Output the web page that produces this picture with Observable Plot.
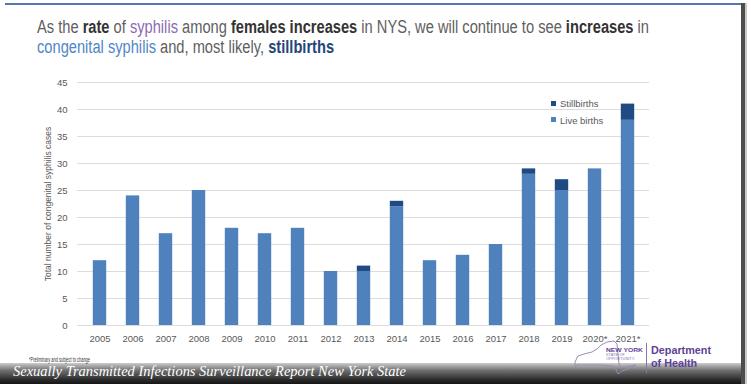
<!DOCTYPE html>
<html><head><meta charset="utf-8">
<script src="https://cdn.jsdelivr.net/npm/d3@7"></script>
<script src="https://cdn.jsdelivr.net/npm/@observablehq/plot@0.6"></script>
<style>
body{margin:0;background:#fff;}
#wrap{position:relative;width:751px;height:384px;overflow:hidden;background:#fff;font-family:"Liberation Sans",Arial,sans-serif;}
#topline{position:absolute;left:5px;top:3px;width:736px;height:1.5px;background:#5676ad;}
#rightbar{position:absolute;left:741px;top:3px;width:4px;height:381px;background:#4d4d4d;z-index:5;}
#rightbar2{position:absolute;left:745px;top:3px;width:2px;height:381px;background:#c8c8c8;z-index:5;}
.fit{position:absolute;white-space:nowrap;transform-origin:left top;display:inline-block;}
#t1{left:37px;top:17px;}
#t2{left:37px;top:37px;}
.title{font-family:"Liberation Sans",Arial,sans-serif;font-size:18px;line-height:20px;color:#606060;}
.title b{color:#333;font-weight:bold;}
.purple{color:#8a6bb0;}
.lblue{color:#4f86c6;}
.dblue{color:#24477a;font-weight:bold;}
#chart{position:absolute;left:0;top:70px;}
#legend{position:absolute;left:551px;top:96px;font-size:9.5px;color:#595959;line-height:16.5px;}
#legend .sw{display:inline-block;width:5px;height:5px;margin-right:4px;vertical-align:middle;position:relative;top:-1px;}
#note{left:29px;top:356px;font-size:6.5px;line-height:7px;color:#333;z-index:3;}
#band{position:absolute;left:0;top:363px;width:741px;height:21px;background:linear-gradient(rgba(170,170,170,0.6),#707070 35%,#2a2a2a 80%,#151515);z-index:2;}
#bandtext{left:13px;top:363px;font-family:"Liberation Serif",serif;font-style:italic;font-size:15px;line-height:17px;color:#fff;z-index:4;}
#logo{position:absolute;left:570px;top:340px;z-index:3;}
#dept1{left:651px;top:344px;font-weight:bold;font-size:11.5px;line-height:12px;color:#5e3f98;z-index:3;}
#dept2{left:651px;top:357px;font-weight:bold;font-size:11.5px;line-height:12px;color:#5e3f98;z-index:3;}
#nyline{position:absolute;left:646px;top:343px;width:1px;height:30px;background:#8a74b4;z-index:3;}
#nytxt{left:606px;top:347px;font-weight:bold;font-size:6px;line-height:6px;color:#5e3f98;z-index:3;}
#nytxt span{font-weight:normal;font-size:3.5px;line-height:4px;display:block;color:#8a74b4;}
</style></head>
<body>
<div id="wrap">
  <div id="topline"></div>
  <div id="rightbar"></div><div id="rightbar2"></div>
  <div id="t1" class="fit title">As the <b>rate</b> of <span class="purple">syphilis</span> among <b>females increases</b> in NYS, we will continue to see <b>increases</b> in</div>
  <div id="t2" class="fit title"><span class="lblue">congenital syphilis</span> and, most likely, <span class="dblue">stillbirths</span></div>
  <div id="chart"></div>
  <div id="legend"></div>
  <svg id="logo" width="75" height="36" viewBox="0 0 75 36"><path d="M5,22 L8,16 L14,14 L22,12 L27,9 L31,5 L37,2 L44,1 L47,4 L48,14 L49,24 L51,28 L60,26 L66,25 L58,29 L52,31 L48,34 L46,29 L44,26 L30,25 L8,25 L5,26 Z" fill="none" stroke="#9b8cb8" stroke-width="1"/></svg>
  <div id="nytxt" class="fit">NEW YORK<span>STATE OF<br>OPPORTUNITY.</span></div>
  <div id="nyline"></div>
  <div id="dept1" class="fit">Department</div>
  <div id="dept2" class="fit">of Health</div>
  <div id="note" class="fit">*Preliminary and subject to change</div>
  <div id="band"></div>
  <div id="bandtext" class="fit">Sexually Transmitted Infections Surveillance Report New York State</div>
</div>
<script>
const years = ["2005","2006","2007","2008","2009","2010","2011","2012","2013","2014","2015","2016","2017","2018","2019","2020*","2021*"];
const liveBirths = [12,24,17,25,18,17,18,10,10,22,12,13,15,28,25,29,38];
const stillbirths = [0,0,0,0,0,0,0,0,1,1,0,0,0,1,2,0,3];
const seriesNames = ["Live births","Stillbirths"];
const seriesColors = ["#4f81bd","#1f4a82"];
const yTicks = [0,5,10,15,20,25,30,35,40,45];

const rows = [];
years.forEach((y,i)=>{
  rows.push({year:y, type:"Live births", value:liveBirths[i]});
  rows.push({year:y, type:"Stillbirths", value:stillbirths[i]});
});

const plot = Plot.plot({
  width:751, height:280,
  marginLeft:77, marginRight:102, marginTop:12, marginBottom:25,
  style:{fontFamily:"Liberation Sans, Arial, sans-serif", fontSize:"9.5px", color:"#595959", background:"transparent"},
  x:{domain:years, padding:0, label:null, tickSize:0, tickPadding:10},
  y:{domain:[0,45], ticks:yTicks, tickSize:0, tickPadding:10, label:"Total number of congenital syphilis cases", labelAnchor:"center", labelArrow:"none", labelOffset:33},
  color:{domain:seriesNames, range:seriesColors},
  marks:[
    Plot.gridY(yTicks, {stroke:"#dcdcdc", strokeOpacity:1, strokeWidth:1}),
    Plot.barY(rows, {x:"year", y:"value", fill:"type", order:seriesNames, insetLeft:9.8, insetRight:9.8}),
  ]
});
plot.querySelectorAll('[aria-label="y-axis label"] text').forEach(t=>t.style.fontSize="8.5px");
document.getElementById("chart").appendChild(plot);

const leg = document.getElementById("legend");
[1,0].forEach(i=>{
  const d=document.createElement("div");
  d.innerHTML=`<span class="sw" style="background:${seriesColors[i]}"></span>${seriesNames[i]}`;
  leg.appendChild(d);
});

function fit(id, w){
  const el=document.getElementById(id);
  const cw=el.getBoundingClientRect().width;
  el.style.transform=`scaleX(${w/cw})`;
  return w/cw;
}
const s = fit("t1",612);
document.getElementById("t2").style.transform=`scaleX(${s})`;
fit("bandtext",393);
const ds = fit("dept1",60);
document.getElementById("dept2").style.transform=`scaleX(${ds})`;
fit("nytxt",37);
fit("note",61);
</script>
</body></html>
